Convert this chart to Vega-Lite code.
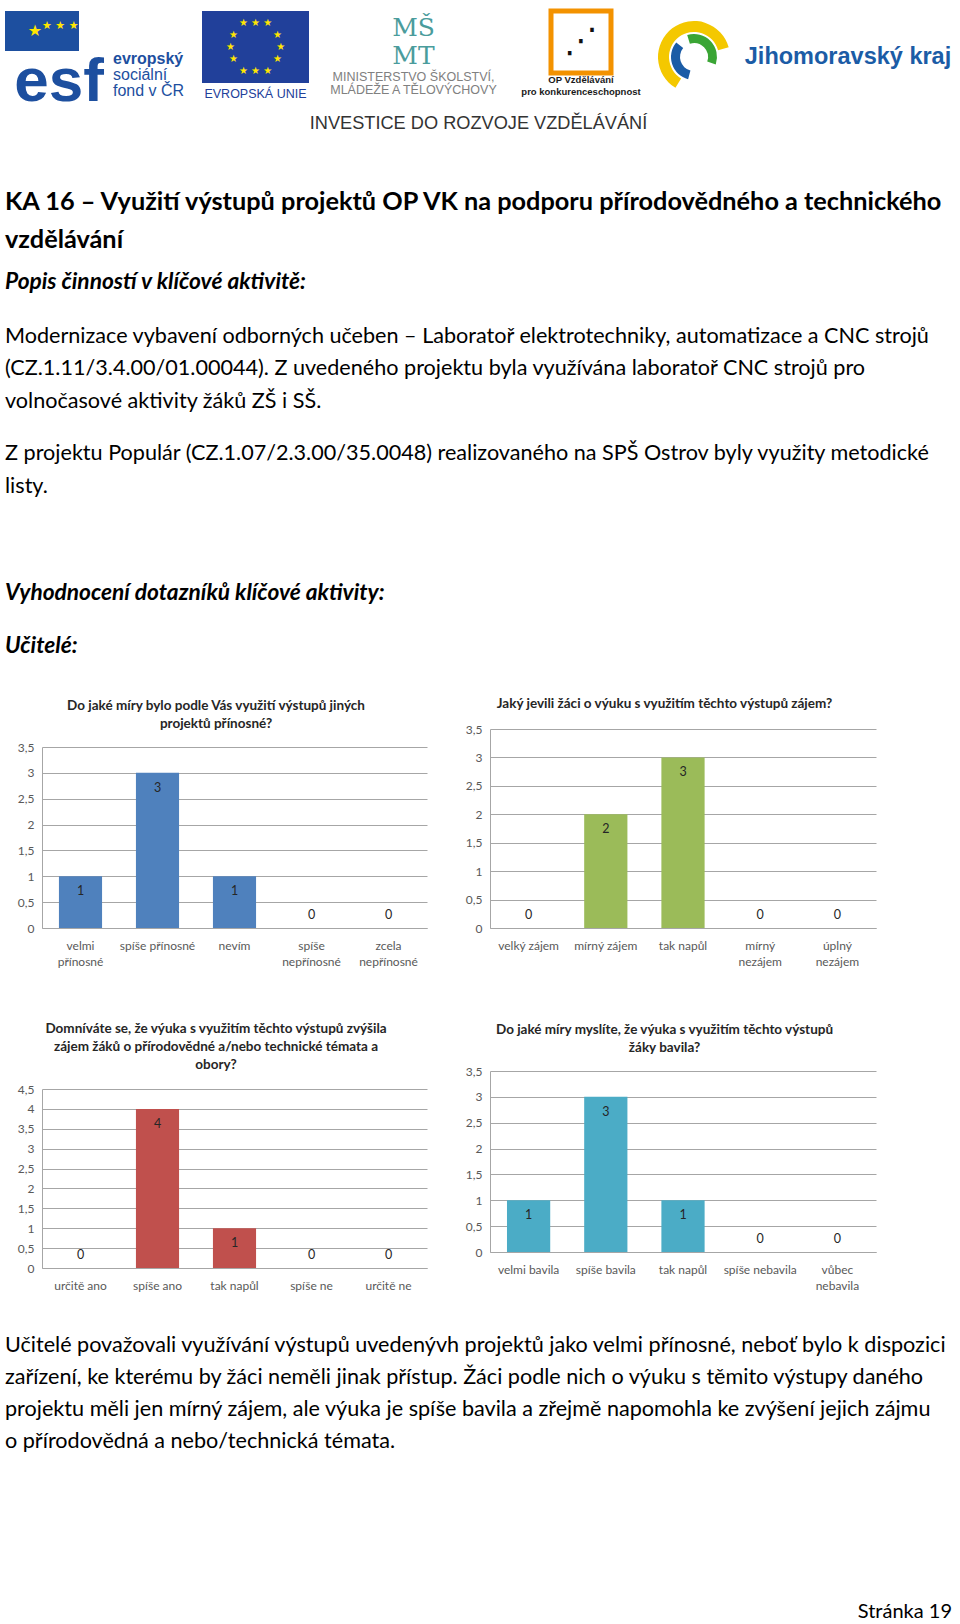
{
 "$schema": "https://vega.github.io/schema/vega-lite/v6.json",
 "background": "white",
 "padding": {"left": 4, "top": 8, "right": 5, "bottom": 0},
 "config": {
  "font": "Lato",
  "view": {"stroke": null},
  "title": {"color": "#000000", "subtitleColor": "#000000"},
  "axis": {"labelFont": "Lato", "labelFontSize": 12, "labelColor": "#595959", "ticks": false, "title": null, "domainColor": "#a6a6a6", "gridColor": "#a6a6a6"},
  "axisX": {"labelAngle": 0, "labelPadding": 12, "labelLineHeight": 16.5, "grid": false,
    "labelExpr": "indexof(['velmi přínosné','spíše nepřínosné','zcela nepřínosné','mírný nezájem','úplný nezájem','vůbec nebavila'], datum.label) >= 0 ? split(datum.label, ' ') : datum.label"},
  "axisY": {"grid": true, "domain": true, "labelPadding": 8, "minExtent": 37, "maxExtent": 37,
    "labelExpr": "replace(format(datum.value, '~g'), '.', ',')"}
 },
 "title": {"text": "Stránka 19", "orient": "bottom", "anchor": "end", "offset": 150, "fontSize": 20, "fontWeight": "normal"},
 "columns": 2,
 "align": "none",
 "spacing": {"row": 57, "column": 0},
 "concat": [
  {"width": 1, "height": 1, "data": {"values": []}, "mark": "point"},
  {
   "title": {"text": "INVESTICE DO ROZVOJE VZDĚLÁVÁNÍ", "orient": "bottom", "anchor": "middle", "offset": 1.5, "font": "Liberation Sans", "fontSize": 18.2, "fontWeight": "normal", "color": "#333333"},
   "spacing": 0,
   "hconcat": [
    {"spacing": 0, "vconcat": [
      {"width": 74, "height": 40, "view": {"fill": "#1d4f9f"},
       "layer": [
        {"data": {"values": [{"t": "★"}]},
         "mark": {"type": "text", "color": "#ffe600", "fontSize": 16, "font": "DejaVu Sans", "align": "right", "baseline": "middle"},
         "encoding": {"text": {"field": "t"}}},
        {"data": {"values": [{"t": "★ ★ ★"}]},
         "mark": {"type": "text", "color": "#ffe600", "fontSize": 11, "font": "DejaVu Sans", "align": "left", "baseline": "bottom"},
         "encoding": {"text": {"field": "t"}}}
       ]},
      {"width": 108, "height": 49,
       "data": {"values": [{"t": "esf"}]},
       "mark": {"type": "text", "color": "#1d4f9f", "fontSize": 62, "fontWeight": "bold", "font": "Liberation Sans", "baseline": "alphabetic"},
       "encoding": {"text": {"field": "t"},
        "y": {"datum": "bottom", "type": "ordinal", "scale": {"type": "point", "domain": ["top", "bottom"], "padding": 0}, "axis": null}}}
    ]},
    {"width": 89, "height": 40,
     "data": {"values": []},
     "mark": "text",
     "title": {"text": "evropský", "subtitle": ["sociální", "fond v ČR"], "orient": "bottom", "anchor": "start", "offset": 0, "font": "Liberation Sans", "fontSize": 16, "fontWeight": "bold", "color": "#1d4f9f", "subtitleFont": "Liberation Sans", "subtitleFontSize": 16, "subtitleColor": "#1d4f9f", "subtitleLineHeight": 15.5, "subtitlePadding": 0}},
    {"width": 107, "height": 72, "view": {"fill": "#21409a"},
     "data": {"values": [
      {"r": "1", "t": "★ ★ ★"},
      {"r": "2", "t": "★\u00a0\u00a0\u00a0\u00a0\u00a0\u00a0\u00a0\u00a0\u00a0\u00a0\u00a0★"},
      {"r": "3", "t": "★\u00a0\u00a0\u00a0\u00a0\u00a0\u00a0\u00a0\u00a0\u00a0\u00a0\u00a0\u00a0\u00a0★"},
      {"r": "4", "t": "★\u00a0\u00a0\u00a0\u00a0\u00a0\u00a0\u00a0\u00a0\u00a0\u00a0\u00a0★"},
      {"r": "5", "t": "★ ★ ★"}
     ]},
     "mark": {"type": "text", "color": "#ffe600", "fontSize": 10, "font": "DejaVu Sans", "baseline": "middle"},
     "encoding": {"text": {"field": "t"},
      "y": {"field": "r", "type": "ordinal", "scale": {"type": "point", "padding": 1.13}, "axis": null}},
     "title": {"text": "EVROPSKÁ UNIE", "orient": "bottom", "anchor": "middle", "offset": 5, "font": "Liberation Sans", "fontSize": 12.5, "fontWeight": "normal", "color": "#21409a"}},
    {"width": 209, "height": 62,
     "data": {"values": [{"r": "1", "t": "MŠ"}, {"r": "2", "t": "\u00a0MT"}]},
     "mark": {"type": "text", "color": "#4a9c9c", "fontSize": 25, "font": "DejaVu Serif", "baseline": "middle"},
     "encoding": {"text": {"field": "t"},
      "y": {"field": "r", "type": "ordinal", "scale": {"type": "point", "padding": 0.607}, "axis": null}},
     "title": {"text": ["MINISTERSTVO ŠKOLSTVÍ,", "MLÁDEŽE A TĚLOVÝCHOVY"], "orient": "bottom", "anchor": "middle", "offset": -2, "font": "Liberation Sans", "fontSize": 12.5, "lineHeight": 12.5, "fontWeight": "normal", "color": "#808080"}},
    {"width": 60, "height": 62, "view": {"stroke": "#f39200", "strokeWidth": 5},
     "data": {"values": [{"t": "⋰"}]},
     "mark": {"type": "text", "color": "#111111", "fontSize": 34, "font": "DejaVu Sans", "baseline": "middle"},
     "encoding": {"text": {"field": "t"}},
     "title": {"text": ["OP Vzdělávání", "pro konkurenceschopnost"], "orient": "bottom", "anchor": "middle", "offset": 2, "font": "Liberation Sans", "fontSize": 9.5, "lineHeight": 12, "fontWeight": "bold", "color": "#1a1a1a"}},
    {"width": 100, "height": 92,
     "data": {"values": [{"t": 1}]},
     "layer": [
      {"mark": {"type": "arc", "theta": -2.6, "theta2": 1.3, "radius": 36, "radius2": 25, "color": "#f4c800"}, "encoding": {}},
      {"mark": {"type": "arc", "theta": -0.3, "theta2": 1.9, "radius": 23, "radius2": 14, "color": "#3aa535"}, "encoding": {}},
      {"mark": {"type": "arc", "theta": 3.4, "theta2": 5.4, "radius": 23, "radius2": 14, "color": "#1b5ca6"}, "encoding": {}}
     ]},
    {"width": 208, "height": 92,
     "data": {"values": [{"t": "Jihomoravský kraj"}]},
     "mark": {"type": "text", "color": "#1b5ca6", "fontSize": 23.5, "fontWeight": "bold", "font": "Liberation Sans", "baseline": "middle"},
     "encoding": {"text": {"field": "t"}}}
   ]
  },
  {"width": 1, "height": 1, "data": {"values": []}, "mark": "point"},
  {
   "title": {"text": ["KA 16 – Využití výstupů projektů OP VK na podporu přírodovědného a technického", "vzdělávání"], "subtitle": "Popis činností v klíčové aktivitě:", "anchor": "start", "fontSize": 25.3, "fontWeight": "bold", "lineHeight": 38, "subtitleFont": "Lato", "subtitleFontSize": 22.7, "subtitleFontWeight": "bold", "subtitleFontStyle": "italic", "subtitlePadding": 18, "offset": 32},
   "vconcat": [
    {
     "title": {"text": ["Modernizace vybavení odborných učeben – Laboratoř elektrotechniky, automatizace a CNC strojů", "(CZ.1.11/3.4.00/01.00044). Z uvedeného projektu byla využívána laboratoř CNC strojů pro", "volnočasové aktivity žáků ZŠ i SŠ."], "anchor": "start", "fontSize": 21.6, "fontWeight": "normal", "lineHeight": 32.5, "offset": 31},
     "vconcat": [
      {
       "title": {"text": ["Z projektu Populár (CZ.1.07/2.3.00/35.0048) realizovaného na SPŠ Ostrov byly využity metodické", "listy."], "anchor": "start", "fontSize": 21.6, "fontWeight": "normal", "lineHeight": 33, "offset": 84},
       "vconcat": [
        {
         "title": {"text": ["Vyhodnocení dotazníků klíčové aktivity:", "Učitelé:"], "anchor": "start", "fontSize": 22.7, "fontWeight": "bold", "fontStyle": "italic", "lineHeight": 53, "offset": 39},
         "vconcat": [
          {
           "title": {"text": ["Učitelé považovali využívání výstupů uvedenývh projektů jako velmi přínosné, neboť bylo k dispozici", "zařízení, ke kterému by žáci neměli jinak přístup. Žáci podle nich o výuku s těmito výstupy daného", "projektu měli jen mírný zájem, ale výuka je spíše bavila a zřejmě napomohla ke zvýšení jejich zájmu", "o přírodovědná a nebo/technická témata."], "orient": "bottom", "anchor": "start", "fontSize": 21.6, "fontWeight": "normal", "lineHeight": 32, "offset": 43},
           "spacing": 53,
           "vconcat": [
            {"spacing": 26, "hconcat": [
             {
              "width": 385, "height": 199,
              "title": {"text": ["Do jaké míry bylo podle Vás využití výstupů  jiných", "projektů přínosné?"], "anchor": "middle", "frame": "bounds", "fontSize": 13.5, "fontWeight": "bold", "lineHeight": 18, "color": "#262626", "offset": -1},
              "data": {"values": [
               {"odpoved": "velmi přínosné", "pocet": 1},
               {"odpoved": "spíše přínosné", "pocet": 3},
               {"odpoved": "nevím", "pocet": 1},
               {"odpoved": "spíše nepřínosné", "pocet": 0},
               {"odpoved": "zcela nepřínosné", "pocet": 0}
              ]},
              "encoding": {
               "x": {"field": "odpoved", "type": "nominal", "sort": null, "scale": {"paddingInner": 0.44, "paddingOuter": 0.22}},
               "y": {"field": "pocet", "type": "quantitative", "scale": {"domain": [0, 3.5], "nice": false, "range": [199, 18]}, "axis": {"values": [0, 0.5, 1, 1.5, 2, 2.5, 3, 3.5]}}
              },
              "layer": [
               {"mark": {"type": "bar", "color": "#4f81bd"}},
               {"transform": [{"filter": "datum.pocet > 0"}], "mark": {"type": "text", "dy": 15, "fontSize": 12.5, "color": "#262626"}, "encoding": {"text": {"field": "pocet", "type": "quantitative"}}},
               {"transform": [{"filter": "datum.pocet == 0"}], "mark": {"type": "text", "dy": -13, "fontSize": 12.5, "color": "#262626"}, "encoding": {"text": {"field": "pocet", "type": "quantitative"}}}
              ]
             },
             {
              "width": 386, "height": 199,
              "title": {"text": "Jaký jevili žáci o výuku s využitím těchto výstupů zájem?", "anchor": "middle", "frame": "bounds", "fontSize": 13.5, "fontWeight": "bold", "lineHeight": 18, "color": "#262626", "offset": 13},
              "data": {"values": [
               {"odpoved": "velký zájem", "pocet": 0},
               {"odpoved": "mírný zájem", "pocet": 2},
               {"odpoved": "tak napůl", "pocet": 3},
               {"odpoved": "mírný nezájem", "pocet": 0},
               {"odpoved": "úplný nezájem", "pocet": 0}
              ]},
              "encoding": {
               "x": {"field": "odpoved", "type": "nominal", "sort": null, "scale": {"paddingInner": 0.44, "paddingOuter": 0.22}},
               "y": {"field": "pocet", "type": "quantitative", "scale": {"domain": [0, 3.5], "nice": false}, "axis": {"values": [0, 0.5, 1, 1.5, 2, 2.5, 3, 3.5]}}
              },
              "layer": [
               {"mark": {"type": "bar", "color": "#9bbb59"}},
               {"transform": [{"filter": "datum.pocet > 0"}], "mark": {"type": "text", "dy": 15, "fontSize": 12.5, "color": "#262626"}, "encoding": {"text": {"field": "pocet", "type": "quantitative"}}},
               {"transform": [{"filter": "datum.pocet == 0"}], "mark": {"type": "text", "dy": -13, "fontSize": 12.5, "color": "#262626"}, "encoding": {"text": {"field": "pocet", "type": "quantitative"}}}
              ]
             }
            ]},
            {"spacing": 26, "hconcat": [
             {
              "width": 385, "height": 197,
              "title": {"text": ["Domníváte se, že výuka s využitím těchto výstupů zvýšila", "zájem žáků o přírodovědné a/nebo technické témata a", "obory?"], "anchor": "middle", "frame": "bounds", "fontSize": 13.5, "fontWeight": "bold", "lineHeight": 18, "color": "#262626", "offset": 0},
              "data": {"values": [
               {"odpoved": "určitě ano", "pocet": 0},
               {"odpoved": "spíše ano", "pocet": 4},
               {"odpoved": "tak napůl", "pocet": 1},
               {"odpoved": "spíše ne", "pocet": 0},
               {"odpoved": "určitě ne", "pocet": 0}
              ]},
              "encoding": {
               "x": {"field": "odpoved", "type": "nominal", "sort": null, "scale": {"paddingInner": 0.44, "paddingOuter": 0.22}},
               "y": {"field": "pocet", "type": "quantitative", "scale": {"domain": [0, 4.5], "nice": false, "range": [197, 18]}, "axis": {"values": [0, 0.5, 1, 1.5, 2, 2.5, 3, 3.5, 4, 4.5]}}
              },
              "layer": [
               {"mark": {"type": "bar", "color": "#c0504d"}},
               {"transform": [{"filter": "datum.pocet > 0"}], "mark": {"type": "text", "dy": 15, "fontSize": 12.5, "color": "#262626"}, "encoding": {"text": {"field": "pocet", "type": "quantitative"}}},
               {"transform": [{"filter": "datum.pocet == 0"}], "mark": {"type": "text", "dy": -13, "fontSize": 12.5, "color": "#262626"}, "encoding": {"text": {"field": "pocet", "type": "quantitative"}}}
              ]
             },
             {
              "width": 386, "height": 181,
              "title": {"text": ["Do jaké míry myslíte, že výuka s využitím těchto výstupů", "žáky bavila?"], "anchor": "middle", "frame": "bounds", "fontSize": 13.5, "fontWeight": "bold", "lineHeight": 18, "color": "#262626", "offset": 11},
              "data": {"values": [
               {"odpoved": "velmi bavila", "pocet": 1},
               {"odpoved": "spíše bavila", "pocet": 3},
               {"odpoved": "tak napůl", "pocet": 1},
               {"odpoved": "spíše nebavila", "pocet": 0},
               {"odpoved": "vůbec nebavila", "pocet": 0}
              ]},
              "encoding": {
               "x": {"field": "odpoved", "type": "nominal", "sort": null, "scale": {"paddingInner": 0.44, "paddingOuter": 0.22}},
               "y": {"field": "pocet", "type": "quantitative", "scale": {"domain": [0, 3.5], "nice": false}, "axis": {"values": [0, 0.5, 1, 1.5, 2, 2.5, 3, 3.5]}}
              },
              "layer": [
               {"mark": {"type": "bar", "color": "#4bacc6"}},
               {"transform": [{"filter": "datum.pocet > 0"}], "mark": {"type": "text", "dy": 15, "fontSize": 12.5, "color": "#262626"}, "encoding": {"text": {"field": "pocet", "type": "quantitative"}}},
               {"transform": [{"filter": "datum.pocet == 0"}], "mark": {"type": "text", "dy": -13, "fontSize": 12.5, "color": "#262626"}, "encoding": {"text": {"field": "pocet", "type": "quantitative"}}}
              ]
             }
            ]}
           ]
          }
         ]
        }
       ]
      }
     ]
    }
   ]
  }
 ]
}
